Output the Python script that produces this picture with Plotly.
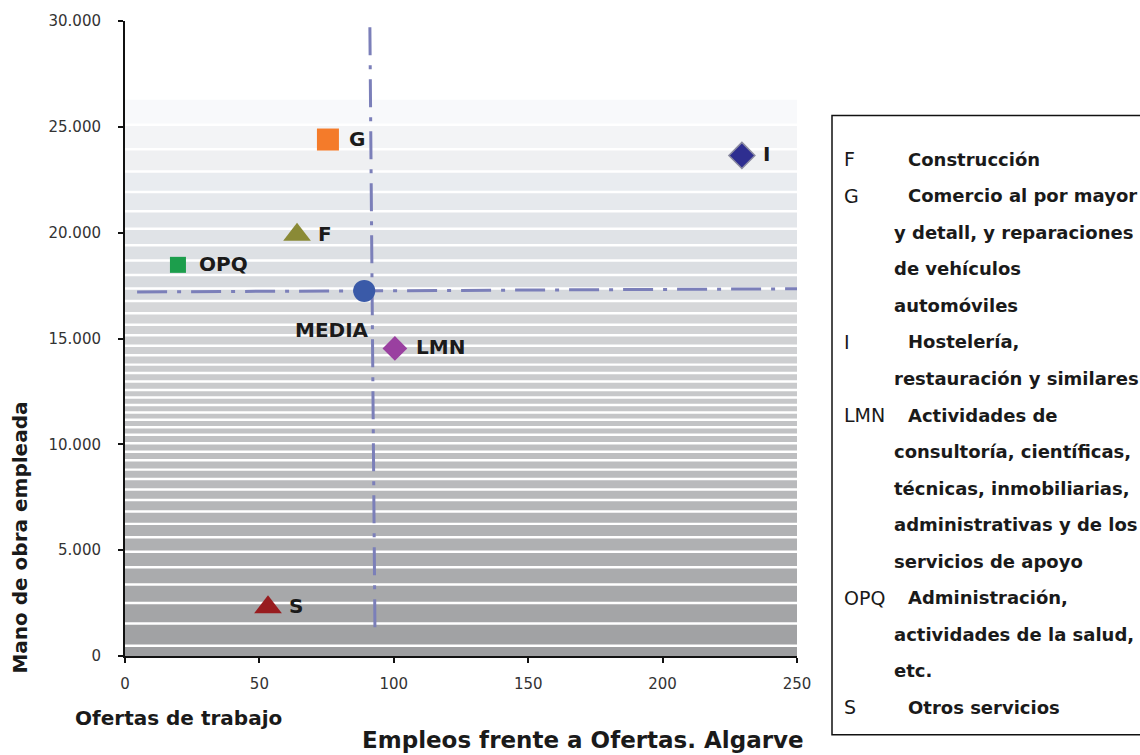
import plotly.graph_objects as go

# ---- data ----
codes = ["G", "F", "OPQ", "MEDIA", "LMN", "I", "S"]
ofertas = [75.5, 64, 19.7, 89, 100.4, 229.5, 53.2]
empleo = [24400, 19900, 18480, 17250, 14530, 23650, 2300]
symbols = ["square", "triangle-up", "square", "circle", "diamond", "diamond", "triangle-up"]
colors = ["#f47b2a", "#8a8a36", "#1c9e4c", "#3a5aa8", "#9a40a0", "#2e2e90", "#981c1f"]
sizes = [22, 24, 16, 22, 19, 20, 24]

# average (MEDIA) guide lines
vline_x = [91.1, 93.0]
vline_y = [29700, 1100]
hline_x = [4.5, 251]
hline_y = [17200, 17350]

y_ticks = [0, 5000, 10000, 15000, 20000, 25000, 30000]
y_ticktext = ["0", "5.000", "10.000", "15.000", "20.000", "25.000", "30.000"]
x_ticks = [0, 50, 100, 150, 200, 250]

legend_lines = [
    ("F", "Construcción", 1),
    ("G", "Comercio al por mayor", 1),
    ("", "y detall, y reparaciones", 0),
    ("", "de vehículos", 0),
    ("", "automóviles", 0),
    ("I", "Hostelería,", 1),
    ("", "restauración y similares", 0),
    ("LMN", "Actividades de", 1),
    ("", "consultoría, científicas,", 0),
    ("", "técnicas, inmobiliarias,", 0),
    ("", "administrativas y de los", 0),
    ("", "servicios de apoyo", 0),
    ("OPQ", "Administración,", 1),
    ("", "actividades de la salud,", 0),
    ("", "etc.", 0),
    ("S", "Otros servicios", 1),
]

# ---- layout geometry (pixels) ----
W, H = 1140, 755
L, R, T, B = 125, 797, 18, 656
PW, PH = R - L, B - T


def px(xp):
    return (xp - L) / PW


def py(yp):
    return (B - yp) / PH


BOLD = "DejaVu Sans, Liberation Sans, Arial"
INK = "#1a1a1a"

fig = go.Figure()

# background banded gradient (decorative)
shapes = []
upp = 30000 / PH  # data units per pixel
top_px = 97
pos = top_px
while pos < B - 1:
    t = (pos - top_px) / (B - top_px)
    if t < 0.55:
        h = 5 + 19 * ((0.55 - t) / 0.55) ** 1.3
    else:
        h = 5 + 19 * ((t - 0.55) / 0.45) ** 1.6
    h = max(4, round(h))
    end = min(pos + h, B)
    g = int(249 - (249 - 157) * t)
    bl = 3 if 0.1 < t < 0.35 else 1
    col = f"rgb({g-bl},{g},{min(255, g+bl+1)})"
    shapes.append(dict(type="rect", xref="x", yref="y", x0=0, x1=250,
                       y0=(B - end) * upp, y1=(B - pos) * upp,
                       fillcolor=col, line=dict(width=0), layer="below"))
    pos = end + 2.5

# legend box
shapes.append(dict(type="rect", xref="paper", yref="paper",
                   x0=px(832), x1=px(1146), y0=py(735), y1=py(113),
                   line=dict(color="#111", width=1.5), fillcolor="white"))

fig.add_trace(go.Scatter(x=vline_x, y=vline_y, mode="lines",
                         line=dict(color="#7b7fb9", width=3, dash="28px,10px,4px,10px"),
                         hoverinfo="skip", showlegend=False))
fig.add_trace(go.Scatter(x=hline_x, y=hline_y, mode="lines",
                         line=dict(color="#7b7fb9", width=3, dash="30px,10px,4px,10px"),
                         hoverinfo="skip", showlegend=False))

for c, xv, yv, s, col, sz in zip(codes, ofertas, empleo, symbols, colors, sizes):
    lw = 1.5 if c == "I" else 0
    fig.add_trace(go.Scatter(x=[xv], y=[yv], mode="markers", name=c,
                             marker=dict(symbol=s, color=col, size=sz,
                                         line=dict(color="#8a8aa0", width=lw)),
                             showlegend=False))

annotations = []
lab_font = dict(family=BOLD, size=20, color=INK)
for c, xv, yv in zip(codes, ofertas, empleo):
    if c == "MEDIA":
        annotations.append(dict(x=xv, y=yv, xref="x", yref="y", text="<b>MEDIA</b>",
                                showarrow=False, xanchor="right", yanchor="middle",
                                xshift=7, yshift=-39, font=lab_font))
    else:
        annotations.append(dict(x=xv, y=yv, xref="x", yref="y", text=f"<b>{c}</b>",
                                showarrow=False, xanchor="left", yanchor="middle",
                                xshift=19, yshift=1, font=lab_font))

# axis titles and chart title
annotations.append(dict(x=px(20), y=py(537), xref="paper", yref="paper",
                        xanchor="center", yanchor="middle",
                        text="<b>Mano de obra empleada</b>", textangle=-90,
                        showarrow=False, font=dict(family=BOLD, size=20, color=INK)))
annotations.append(dict(x=px(178), y=py(718), xref="paper", yref="paper",
                        xanchor="center", yanchor="middle",
                        text="<b>Ofertas de trabajo</b>",
                        showarrow=False, font=dict(family=BOLD, size=20, color=INK)))
annotations.append(dict(x=px(583), y=py(740), xref="paper", yref="paper",
                        xanchor="center", yanchor="middle",
                        text="<b>Empleos frente a Ofertas. Algarve</b>",
                        showarrow=False, font=dict(family=BOLD, size=23, color=INK)))

# legend text
for i, (code, desc, indent) in enumerate(legend_lines):
    yy = py(157 + i * 36.7)
    if code:
        annotations.append(dict(x=px(842), y=yy, xref="paper", yref="paper", text=code,
                                showarrow=False, xanchor="left", yanchor="middle",
                                font=dict(family="DejaVu Sans, Liberation Sans", size=19, color=INK)))
    annotations.append(dict(x=px(906 if indent else 892), y=yy, xref="paper", yref="paper",
                            text=f"<b>{desc}</b>", showarrow=False, xanchor="left", yanchor="middle",
                            font=dict(family=BOLD, size=18, color=INK)))

tickfont = dict(family="DejaVu Sans, Liberation Sans", size=15, color="#333")
fig.update_layout(
    width=W, height=H,
    margin=dict(l=L, r=W - R, t=T, b=H - B, pad=0),
    plot_bgcolor="white", paper_bgcolor="white",
    shapes=shapes, annotations=annotations,
    xaxis=dict(range=[0, 250], tickvals=x_ticks, showgrid=False, zeroline=False,
               showline=True, linecolor="#111", linewidth=2,
               ticks="outside", ticklen=5, tickwidth=2, tickcolor="#111",
               ticklabelstandoff=8, tickfont=tickfont),
    yaxis=dict(range=[0, 30000], tickvals=y_ticks, ticktext=y_ticktext, showgrid=False,
               zeroline=False, showline=True, linecolor="#111", linewidth=2,
               ticks="outside", ticklen=5, tickwidth=2, tickcolor="#111",
               ticklabelstandoff=14, tickfont=tickfont),
    showlegend=False,
)

fig.write_html("out.html", config={"displayModeBar": False},
               post_script="document.body.style.margin='0';document.body.style.overflow='hidden';")
